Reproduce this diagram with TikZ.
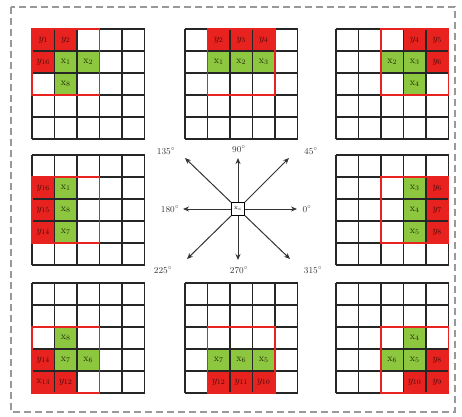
\documentclass[tikz,border=0pt]{standalone}
\usetikzlibrary{arrows.meta}
\definecolor{redc}{HTML}{E8231F}
\definecolor{greenc}{HTML}{8DC63F}
\definecolor{ytxt}{HTML}{4A0808}
\definecolor{xtxt}{HTML}{1E2C0A}
\def\cw{22.5}
\def\ch{22}
\tikzset{
  gridline/.style={line width=1.1pt, black!85},
  winbox/.style={line width=1.2pt, redc},
  celltext/.style={font=\fontsize{10}{11}\selectfont, inner sep=0pt},
  arr/.style={line width=1pt, black!80, -{Stealth[length=6pt,width=5pt]}},
  deg/.style={font=\fontsize{9}{10}\selectfont, inner sep=0pt, text=black!80},
  centerbox/.style={draw, line width=1pt, minimum size=13pt, inner sep=0pt, fill=white},
  frame/.style={line width=1.4pt, gray!80, dash pattern=on 7pt off 4pt}
}
\newcommand\redcell[3]{%
  \fill[redc] (#1*\cw,#2*\ch) rectangle ++(\cw,\ch);
  \node[celltext, text=ytxt] at (#1*\cw+0.5*\cw,#2*\ch+0.5*\ch) {$y_{#3}$};}
\newcommand\redxcell[3]{%
  \fill[redc] (#1*\cw,#2*\ch) rectangle ++(\cw,\ch);
  \node[celltext, text=ytxt] at (#1*\cw+0.5*\cw,#2*\ch+0.5*\ch) {$\mathrm{x}_{#3}$};}
\newcommand\greencell[3]{%
  \fill[greenc] (#1*\cw,#2*\ch) rectangle ++(\cw,\ch);
  \node[celltext, text=xtxt] at (#1*\cw+0.5*\cw,#2*\ch+0.5*\ch) {$\mathrm{x}_{#3}$};}
\newcommand\gridpanel[5]{%
  \begin{scope}[shift={(#1,#2)}]
    #5
    \foreach \i in {0,...,5} {
      \draw[gridline] (\i*\cw,0) -- (\i*\cw,5*\ch);
      \draw[gridline] (0,\i*\ch) -- (5*\cw,\i*\ch);
    }
    \draw[winbox] (#3*\cw,#4*\ch) rectangle ++(3*\cw,3*\ch);
  \end{scope}}
\begin{document}
\begin{tikzpicture}[x=1pt,y=-1pt]
\useasboundingbox (0,0) rectangle (462,416);
\draw[frame] (11,7) rectangle (455,412);

% top-left (135)
\gridpanel{32}{29}{0}{0}{%
  \redcell{0}{0}{1}\redcell{1}{0}{2}\redcell{0}{1}{16}%
  \greencell{1}{1}{1}\greencell{2}{1}{2}\greencell{1}{2}{8}}
% top-middle (90)
\gridpanel{185}{29}{1}{0}{%
  \redcell{1}{0}{2}\redcell{2}{0}{3}\redcell{3}{0}{4}%
  \greencell{1}{1}{1}\greencell{2}{1}{2}\greencell{3}{1}{3}}
% top-right (45)
\gridpanel{336}{29}{2}{0}{%
  \redcell{3}{0}{4}\redcell{4}{0}{5}\redcell{4}{1}{6}%
  \greencell{2}{1}{2}\greencell{3}{1}{3}\greencell{3}{2}{4}}
% middle-left (180)
\gridpanel{32}{155}{0}{1}{%
  \redcell{0}{1}{16}\redcell{0}{2}{15}\redcell{0}{3}{14}%
  \greencell{1}{1}{1}\greencell{1}{2}{8}\greencell{1}{3}{7}}
% middle-right (0)
\gridpanel{336}{155}{2}{1}{%
  \redcell{4}{1}{6}\redcell{4}{2}{7}\redcell{4}{3}{8}%
  \greencell{3}{1}{3}\greencell{3}{2}{4}\greencell{3}{3}{5}}
% bottom-left (225)
\gridpanel{32}{283}{0}{2}{%
  \redcell{0}{3}{14}\redxcell{0}{4}{13}\redcell{1}{4}{12}%
  \greencell{1}{2}{8}\greencell{1}{3}{7}\greencell{2}{3}{6}}
% bottom-middle (270)
\gridpanel{185}{283}{1}{2}{%
  \redcell{1}{4}{12}\redcell{2}{4}{11}\redcell{3}{4}{10}%
  \greencell{1}{3}{7}\greencell{2}{3}{6}\greencell{3}{3}{5}}
% bottom-right (315)
\gridpanel{336}{283}{2}{2}{%
  \redcell{4}{3}{8}\redcell{3}{4}{10}\redcell{4}{4}{9}%
  \greencell{3}{2}{4}\greencell{2}{3}{6}\greencell{3}{3}{5}}

% center compass
\node[centerbox] (c) at (238,209) {\fontsize{6}{6}\selectfont$\mathrm{x}_c$};
\coordinate (e0) at (297,209);
\coordinate (e90) at (238,158);
\coordinate (e180) at (183,209);
\coordinate (e270) at (238,260);
\coordinate (e45) at (289,158);
\coordinate (e135) at (185,158);
\coordinate (e225) at (187,259);
\coordinate (e315) at (290,259);
\foreach \e in {e0,e45,e90,e135,e180,e225,e270,e315} \draw[arr] (c) -- (\e);
\node[deg] (l90) at (239,149) {90$^\circ$};
\node[deg] (l45) at (311,151) {45$^\circ$};
\node[deg] (l135) at (166,151) {135$^\circ$};
\node[deg] (l0) at (307,209) {0$^\circ$};
\node[deg] (l180) at (170,209) {180$^\circ$};
\node[deg] (l225) at (163,270) {225$^\circ$};
\node[deg] (l270) at (239,270) {270$^\circ$};
\node[deg] (l315) at (313,270) {315$^\circ$};
\end{tikzpicture}
\end{document}
